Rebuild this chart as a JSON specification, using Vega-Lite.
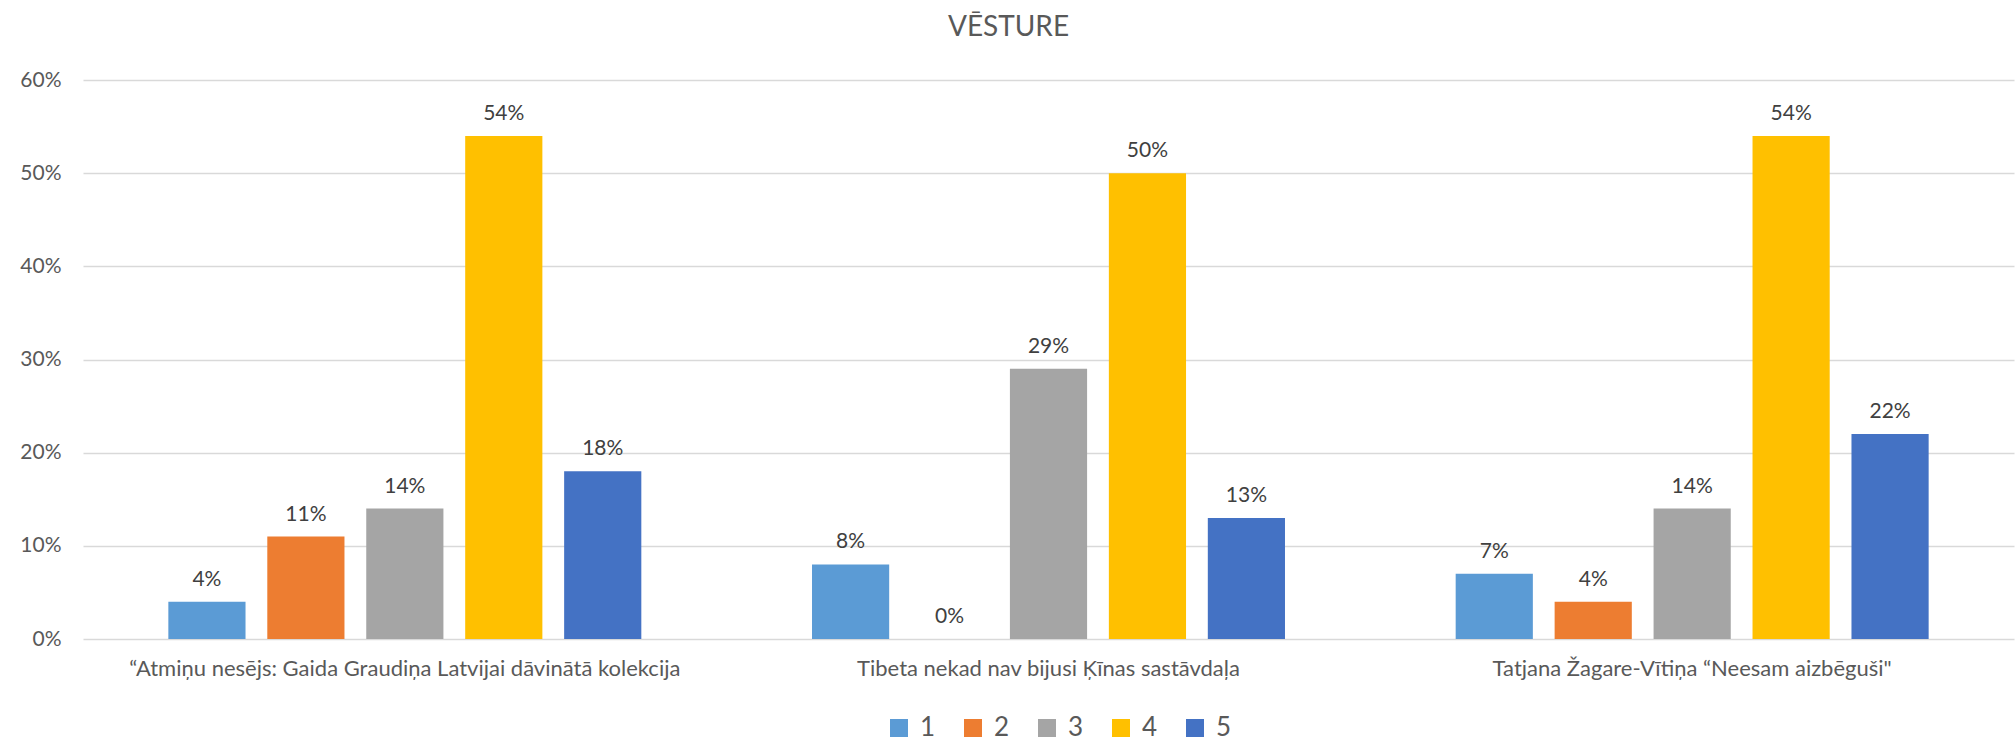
{
  "$schema": "https://vega.github.io/schema/vega-lite/v6.json",
  "autosize": {"type": "none"},
  "padding": {"left": 83, "top": 80, "right": 2, "bottom": 102},
  "width": 1931,
  "height": 559,
  "background": "white",
  "config": {"view": {"stroke": null}},
  "title": {
    "text": "VĒSTURE",
    "anchor": "middle",
    "frame": "group",
    "offset": 27,
    "dx": -40,
    "font": "Lato",
    "fontSize": 28,
    "fontWeight": "normal",
    "color": "#595959"
  },
  "data": {
    "values": [
      {"cat": "“Atmiņu nesējs: Gaida Graudiņa Latvijai dāvinātā kolekcija", "s": "1", "v": 0.04},
      {"cat": "“Atmiņu nesējs: Gaida Graudiņa Latvijai dāvinātā kolekcija", "s": "2", "v": 0.11},
      {"cat": "“Atmiņu nesējs: Gaida Graudiņa Latvijai dāvinātā kolekcija", "s": "3", "v": 0.14},
      {"cat": "“Atmiņu nesējs: Gaida Graudiņa Latvijai dāvinātā kolekcija", "s": "4", "v": 0.54},
      {"cat": "“Atmiņu nesējs: Gaida Graudiņa Latvijai dāvinātā kolekcija", "s": "5", "v": 0.18},
      {"cat": "Tibeta nekad nav bijusi Ķīnas sastāvdaļa", "s": "1", "v": 0.08},
      {"cat": "Tibeta nekad nav bijusi Ķīnas sastāvdaļa", "s": "2", "v": 0.0},
      {"cat": "Tibeta nekad nav bijusi Ķīnas sastāvdaļa", "s": "3", "v": 0.29},
      {"cat": "Tibeta nekad nav bijusi Ķīnas sastāvdaļa", "s": "4", "v": 0.50},
      {"cat": "Tibeta nekad nav bijusi Ķīnas sastāvdaļa", "s": "5", "v": 0.13},
      {"cat": "Tatjana Žagare-Vītiņa “Neesam aizbēguši\"", "s": "1", "v": 0.07},
      {"cat": "Tatjana Žagare-Vītiņa “Neesam aizbēguši\"", "s": "2", "v": 0.04},
      {"cat": "Tatjana Žagare-Vītiņa “Neesam aizbēguši\"", "s": "3", "v": 0.14},
      {"cat": "Tatjana Žagare-Vītiņa “Neesam aizbēguši\"", "s": "4", "v": 0.54},
      {"cat": "Tatjana Žagare-Vītiņa “Neesam aizbēguši\"", "s": "5", "v": 0.22}
    ]
  },
  "encoding": {
    "x": {
      "field": "cat",
      "type": "nominal",
      "sort": null,
      "scale": {"paddingInner": 0, "paddingOuter": 0},
      "axis": {
        "title": null,
        "labelAngle": 0,
        "ticks": false,
        "domain": false,
        "labelPadding": 19,
        "labelFont": "Lato",
        "labelFontSize": 22,
        "labelColor": "#595959",
        "labelLimit": 0
      }
    },
    "xOffset": {
      "field": "s",
      "type": "nominal",
      "scale": {"paddingInner": 0.22, "paddingOuter": 0.8625}
    },
    "y": {
      "field": "v",
      "type": "quantitative",
      "scale": {"domain": [0, 0.6], "nice": false},
      "axis": {
        "title": null,
        "format": ".0%",
        "values": [0, 0.1, 0.2, 0.3, 0.4, 0.5, 0.6],
        "ticks": false,
        "domain": false,
        "grid": true,
        "gridColor": "#D9D9D9",
        "gridWidth": 1.5,
        "labelPadding": 22,
        "labelFont": "Lato",
        "labelFontSize": 21,
        "labelColor": "#595959"
      }
    }
  },
  "layer": [
    {
      "mark": {"type": "bar"},
      "encoding": {
        "color": {
          "field": "s",
          "type": "nominal",
          "scale": {
            "domain": ["1", "2", "3", "4", "5"],
            "range": ["#5B9BD5", "#ED7D31", "#A5A5A5", "#FFC000", "#4472C4"]
          },
          "legend": {
            "title": null,
            "orient": "none",
            "direction": "horizontal",
            "legendX": 803,
            "legendY": 635,
            "symbolType": "square",
            "symbolSize": 324,
            "symbolStrokeWidth": 0,
            "labelFont": "Lato",
            "labelFontSize": 26,
            "labelColor": "#595959",
            "columnPadding": 24,
            "labelOffset": 8
          }
        }
      }
    },
    {
      "mark": {"type": "text", "baseline": "bottom", "dy": -12, "font": "Lato", "fontSize": 21, "color": "#404040"},
      "encoding": {
        "text": {"field": "v", "type": "quantitative", "format": ".0%"}
      }
    }
  ]
}
